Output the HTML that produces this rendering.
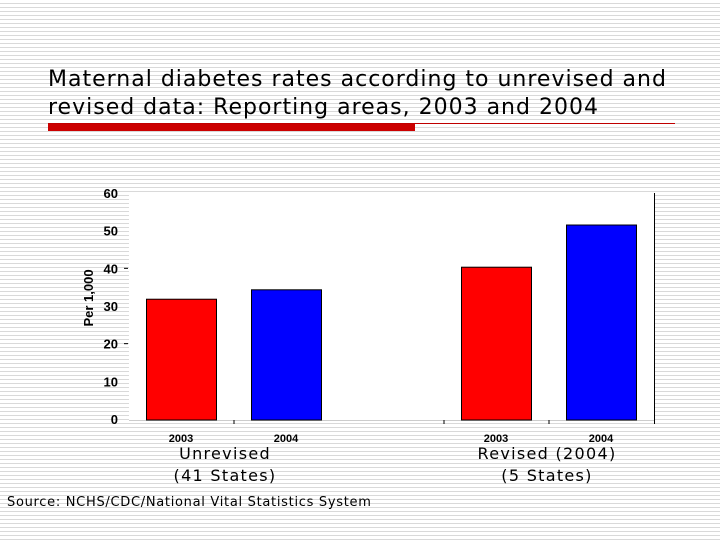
<!DOCTYPE html>
<html><head><meta charset="utf-8"><style>
body{margin:0;width:720px;height:540px;overflow:hidden;background:#fff repeating-linear-gradient(to bottom,#fff 0,#fff 3px,#d9d9d9 3px,#d9d9d9 4px);font-family:"DejaVu Sans","Liberation Sans",sans-serif;position:relative}
.t{position:absolute;white-space:nowrap}
</style></head><body>
<div class="t" style="left:48px;top:66px;font-size:22px;letter-spacing:1px;line-height:28px;color:#000">Maternal diabetes rates according to unrevised and<br>revised data: Reporting areas, 2003 and 2004</div>
<div style="position:absolute;left:48px;top:123px;width:627px;height:1px;background:#c00000"></div>
<div style="position:absolute;left:48px;top:124px;width:367px;height:7px;background:#cc0000"></div>
<svg id="c" width="720" height="540" style="position:absolute;left:0;top:0"></svg>
<div class="t" style="left:142px;top:443px;width:166px;text-align:center;font-size:16px;letter-spacing:1.3px;line-height:22px">Unrevised<br>(41 States)</div>
<div class="t" style="left:462px;top:443px;width:170px;text-align:center;font-size:16px;letter-spacing:1.3px;line-height:22px">Revised (2004)<br>(5 States)</div>
<div class="t" style="left:7px;top:495px;font-size:13px;letter-spacing:0.7px">Source: NCHS/CDC/National Vital Statistics System</div>
<script>
const categories=["2003","2004","2003","2004"];
const values=[31.8,34.3,40.3,51.5];
const colors=["#ff0000","#0000ff","#ff0000","#0000ff"];
const yTicks=[0,10,20,30,40,50,60];
const svg=document.getElementById('c');
const NS='http://www.w3.org/2000/svg';
const y0=419,y60=193;
const y=v=>y0-(y0-y60)*v/60;
const barX=[146,251,461,566],bw=70;
function mk(t,a){const e=document.createElementNS(NS,t);for(const k in a)e.setAttribute(k,a[k]);svg.appendChild(e);return e;}
const bg=mk('rect',{x:129,y:193,width:525,height:230,fill:'#fff'});


const rb=mk('line',{x1:654.5,y1:193,x2:654.5,y2:424,stroke:'#000','stroke-width':1});


yTicks.forEach(v=>{
 const t=mk('text',{x:118,y:y(v)+5,'text-anchor':'end','font-size':13,'font-weight':'bold','font-family':'Liberation Sans,sans-serif'});
 t.textContent=v;
 
 
 if(v==20||v==40){const m=mk('line',{x1:124,x2:128,y1:y(v),y2:y(v),stroke:'#000'});
 
 }
});
const yt=mk('text',{x:0,y:0,transform:'translate(93,298) rotate(-90)','text-anchor':'middle','font-size':13,'font-weight':'bold','font-family':'Liberation Sans,sans-serif'});
yt.textContent='Per 1,000';


const xa=mk('line',{x1:129,x2:654,y1:420.5,y2:420.5,stroke:'#ccc'});


[234,444,549].forEach(x=>{const m=mk('line',{x1:x,x2:x,y1:420,y2:424,stroke:'#000'});

});
values.forEach((v,i)=>{
 const r=mk('rect',{x:barX[i]+.5,y:y(v),width:bw,height:y0-y(v)+1,fill:colors[i],stroke:'#000','stroke-width':1});
 
 
 const t=mk('text',{x:barX[i]+35,y:442,'text-anchor':'middle','font-size':11,'font-weight':'bold','font-family':'Liberation Sans,sans-serif'});
 t.textContent=categories[i];
 
 
});
</script>
</body></html>
